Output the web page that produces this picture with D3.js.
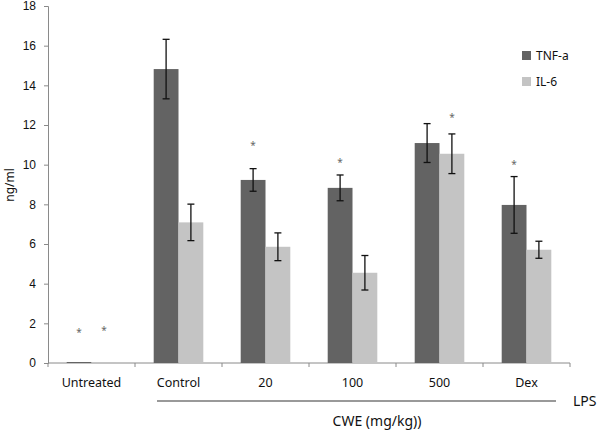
<!DOCTYPE html>
<html>
<head>
<meta charset="utf-8">
<script src="https://cdn.jsdelivr.net/npm/d3@7"></script>
<style>
  body { margin: 0; background: #fff; }
  svg { font-family: "Noto Sans", "DejaVu Sans", sans-serif; }
</style>
</head>
<body>
<svg id="chart" width="600" height="442"></svg>
<script>
// data
const groups   = ["Untreated", "Control", "20", "100", "500", "Dex"];
const series   = ["TNF-a", "IL-6"];
const tnf      = [0.05, 14.82, 9.23, 8.83, 11.09, 7.97];
const tnfErr   = [0, 1.5, 0.57, 0.65, 0.98, 1.43];
const il6      = [0.05, 7.09, 5.86, 4.55, 10.55, 5.71];
const il6Err   = [0, 0.92, 0.7, 0.87, 1.0, 0.43];
// asterisk heights (ng/ml) where shown, null = none
const tnfStar  = [1.6, null, 11.05, 10.2, null, 10.1];
const il6Star  = [1.7, null, null, null, 12.44, null];
const yTicks   = [0, 2, 4, 6, 8, 10, 12, 14, 16, 18];

const colors = { "TNF-a": "#636363", "IL-6": "#c4c4c4" };

const svg = d3.select("#chart");
const margin = { left: 48, right: 30, top: 6, bottom: 79 };
const W = 600 - margin.left - margin.right;
const H = 442 - margin.top - margin.bottom;

const g = svg.append("g").attr("transform", `translate(${margin.left},${margin.top})`);

const x = d3.scaleBand().domain(groups).range([0, W]).paddingInner(0).paddingOuter(0);
const xs = d3.scaleBand().domain(series).range([x.bandwidth() * 0.215, x.bandwidth() * 0.785]);
const y = d3.scaleLinear().domain([0, 18]).range([H, 0]);

const rows = groups.map((grp, i) => ({
  grp,
  vals: [
    { s: "TNF-a", v: tnf[i], e: tnfErr[i], star: tnfStar[i] },
    { s: "IL-6",  v: il6[i], e: il6Err[i], star: il6Star[i] }
  ]
}));

// axes
const yAxis = g.append("g").call(d3.axisLeft(y).tickValues(yTicks).tickSize(4).tickPadding(8));
yAxis.select(".domain").attr("stroke", "#8a8a8a");
yAxis.selectAll(".tick line").attr("stroke", "#8a8a8a");
yAxis.selectAll(".tick text").attr("font-size", 12).attr("fill", "#111");

const xAxis = g.append("g").attr("transform", `translate(0,${H})`);
xAxis.append("line").attr("x1", 0).attr("x2", W).attr("stroke", "#8a8a8a");
xAxis.selectAll("line.tk")
  .data(groups.map(d => x(d)).concat([W]))
  .join("line").attr("class", "tk")
  .attr("x1", d => d).attr("x2", d => d).attr("y1", 0).attr("y2", 4)
  .attr("stroke", "#8a8a8a");
xAxis.selectAll("text")
  .data(groups)
  .join("text")
  .attr("x", d => x(d) + x.bandwidth() / 2)
  .attr("y", 24)
  .attr("text-anchor", "middle")
  .attr("font-size", 12.5)
  .attr("fill", "#111")
  .text(d => d);

// bars
const grpG = g.selectAll("g.grp").data(rows).join("g")
  .attr("class", "grp")
  .attr("transform", d => `translate(${x(d.grp)},0)`);

grpG.selectAll("rect").data(d => d.vals).join("rect")
  .attr("x", d => xs(d.s))
  .attr("width", xs.bandwidth())
  .attr("y", d => y(d.v))
  .attr("height", d => H - y(d.v))
  .attr("fill", d => colors[d.s]);

// error bars
const eb = grpG.selectAll("g.err").data(d => d.vals.filter(v => v.e > 0)).join("g").attr("class", "err");
eb.append("line")
  .attr("x1", d => xs(d.s) + xs.bandwidth() / 2).attr("x2", d => xs(d.s) + xs.bandwidth() / 2)
  .attr("y1", d => y(d.v + d.e)).attr("y2", d => y(d.v - d.e))
  .attr("stroke", "#111").attr("stroke-width", 1.3);
[1, -1].forEach(sign => {
  eb.append("line")
    .attr("x1", d => xs(d.s) + xs.bandwidth() / 2 - 3.5).attr("x2", d => xs(d.s) + xs.bandwidth() / 2 + 3.5)
    .attr("y1", d => y(d.v + sign * d.e)).attr("y2", d => y(d.v + sign * d.e))
    .attr("stroke", "#111").attr("stroke-width", 1.3);
});

// asterisks
grpG.selectAll("text.star").data(d => d.vals.filter(v => v.star != null)).join("text")
  .attr("class", "star")
  .attr("x", d => xs(d.s) + xs.bandwidth() / 2)
  .attr("y", d => y(d.star) + 5)
  .attr("text-anchor", "middle")
  .attr("font-size", 10)
  .attr("fill", "#666")
  .text("*");

// y label
svg.append("text")
  .attr("transform", `translate(14,${185}) rotate(-90)`)
  .attr("text-anchor", "middle")
  .attr("font-size", 12)
  .attr("fill", "#111")
  .text("ng/ml");

// legend
const leg = svg.append("g").attr("transform", "translate(522,51)");
series.forEach((s, i) => {
  const r = leg.append("g").attr("transform", `translate(0,${i * 26})`);
  r.append("rect").attr("width", 9).attr("height", 9).attr("fill", colors[s]);
  r.append("text").attr("x", 14).attr("y", 9).attr("font-size", 12).attr("fill", "#111").text(s);
});

// LPS bracket line
const lpsY = margin.top + H + 38;
svg.append("line")
  .attr("x1", margin.left + x("Control") + 22).attr("x2", margin.left + W - 14)
  .attr("y1", lpsY).attr("y2", lpsY)
  .attr("stroke", "#777").attr("stroke-width", 1.5);
svg.append("text")
  .attr("x", 573).attr("y", lpsY + 5)
  .attr("font-size", 14).attr("fill", "#111")
  .text("LPS");

// CWE label
svg.append("text")
  .attr("x", 377).attr("y", 426)
  .attr("text-anchor", "middle")
  .attr("font-size", 14).attr("fill", "#111")
  .text("CWE (mg/kg))");
</script>
</body>
</html>
